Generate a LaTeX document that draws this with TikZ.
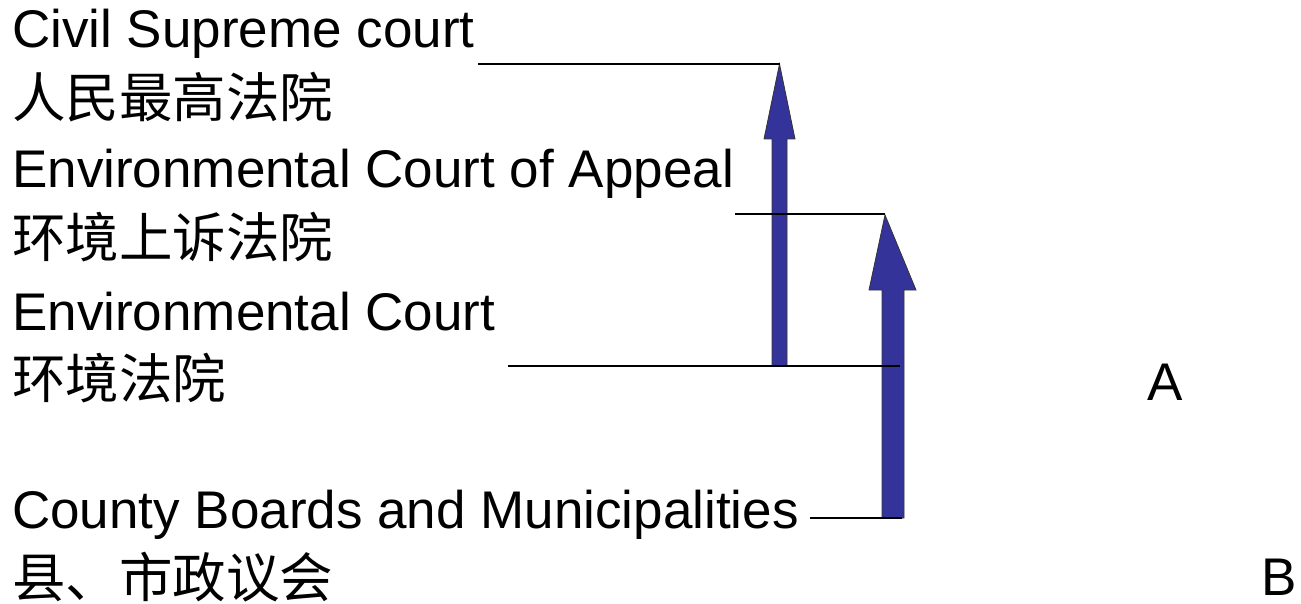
\documentclass[tikz,border=0pt]{standalone}
\usepackage{fontspec}
\setmainfont{Liberation Sans}
\newfontfamily\cjk{Noto Sans CJK SC}
\definecolor{arrowblue}{HTML}{333399}
\tikzset{
  label/.style={anchor=base west, inner sep=0pt, font=\fontsize{53}{60}\selectfont},
  zh/.style={anchor=base west, inner sep=0pt, font=\fontsize{53.5}{60}\selectfont\cjk},
  rule/.style={draw=black, line width=1.5pt},
  bigarrow/.style={fill=arrowblue, draw=black!80, line width=0.8pt, line join=miter}
}
\begin{document}
\begin{tikzpicture}[x=1pt,y=-1pt]
\useasboundingbox (0,0) rectangle (1301,604);
% court levels
\node[label] (sup) at (12,48) {Civil Supreme court};
\node[zh] (supzh) at (12,118) {人民最高法院};
\node[label] (app) at (12,188) {Environmental Court of Appeal};
\node[zh] (appzh) at (12,258) {环境上诉法院};
\node[label] (env) at (12,330) {Environmental Court};
\node[zh] (envzh) at (12,398) {环境法院};
\node[label] (cty) at (12,528) {County Boards and Municipalities};
\node[zh] (ctyzh) at (12,597) {县、市政议会};
\node[label] (A) at (1147,400) {A};
\node[label] (B) at (1261,595) {B};
% level rules
\coordinate (r1a) at (478,64);  \coordinate (r1b) at (780,64);
\coordinate (r2a) at (735,214); \coordinate (r2b) at (885,214);
\coordinate (r3a) at (508,366); \coordinate (r3b) at (900,366);
\coordinate (r4a) at (810,518); \coordinate (r4b) at (902,518);
% appeal arrows
\draw[bigarrow] (772,366) -- (772,139) -- (764,139) -- (779.5,64) -- (795,139) -- (787,139) -- (787,366) -- cycle;
\draw[bigarrow] (882,518) -- (882,290) -- (869,290) -- (885,215) -- (916,290) -- (904,290) -- (904,518) -- cycle;
\draw[rule] (r1a) -- (r1b);
\draw[rule] (r2a) -- (r2b);
\draw[rule] (r3a) -- (r3b);
\draw[rule] (r4a) -- (r4b);
\end{tikzpicture}
\end{document}
